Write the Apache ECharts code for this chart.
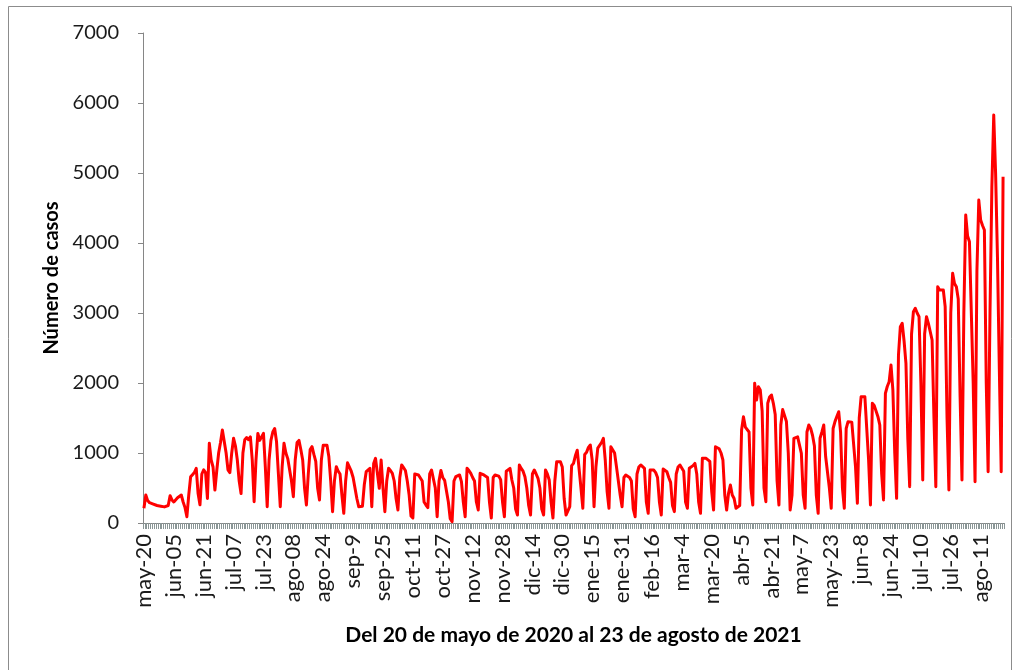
<!DOCTYPE html>
<html>
<head>
<meta charset="utf-8">
<script src="https://cdn.jsdelivr.net/npm/echarts@6/dist/echarts.min.js"></script>
<style>
  html, body { margin: 0; padding: 0; background: #ffffff; }
  #chart { width: 1019px; height: 670px; }
</style>
</head>
<body>
<div id="chart"></div>
<script>
// Daily cases, 20 May 2020 - 23 Aug 2021
const casosMayJul2020 = [
  210, 400, 320, 290, 280, 270, 265, 250, 270, 240, 255, 230, 210, 250, 390,
  330, 300, 320, 360, 380, 400, 300, 220, 90, 400, 660, 690, 720, 780, 420,
  260, 700, 760, 720, 350, 1140, 900, 800, 470, 750, 1000, 1150, 1330, 1320, 1000,
  760, 720, 1000, 1210, 1100, 900, 600, 420, 1000, 1190,
  1220, 1190, 1230, 900, 305, 900, 1280, 1180, 1200, 1280,
  800, 233, 900, 1180, 1300, 1350, 1160, 700, 233, 800
];
const casosAgoOct2020 = [
  1140, 1000, 920, 900, 600, 376, 900, 1150, 1180, 1050,
  900, 500, 257, 700, 1050, 1090, 980, 880, 500, 330,
  900, 1110, 1110, 1110, 950, 600, 162, 600, 805, 740,
  700, 400, 138, 600, 860, 880, 740, 650, 638, 350,
  233, 233, 240, 550, 733, 760, 781, 233, 850, 924,
  910, 495, 900, 500, 162, 600, 781, 750, 710, 600,
  350, 186, 650, 829, 790, 750, 600, 400, 100, 71,
  700, 700, 686, 660, 600, 300, 257, 220, 700, 757,
  733, 500, 90, 600, 750, 650, 610, 590, 300, 60
];
const casosNovEne = [
  19, 600, 662, 680, 686, 590, 300, 90, 781, 750,
  710, 650, 600, 300, 186, 710, 700, 686, 670, 650,
  300, 71, 650, 686, 686, 670, 620, 300, 90, 740,
  760, 781, 614, 500, 200, 114, 829, 780, 740, 662,
  500, 250, 114, 700, 757, 700, 638, 500, 200, 114,
  757, 700, 614, 300, 71, 600, 876, 876, 876, 800,
  350, 114, 140, 233, 820, 852, 960, 1040, 1067, 500,
  210, 980, 1010, 1080, 1114, 900, 233, 800, 1070, 1090,
  1150, 1210, 900, 450, 210, 1090, 1100, 1000, 805, 780
];
const casosFebAbr2021 = [
  400, 233, 650, 686, 686, 650, 600, 200, 90, 700,
  800, 829, 810, 780, 300, 138, 757, 757, 757, 720,
  650, 300, 114, 770, 781, 733, 650, 580, 250, 162,
  700, 800, 829, 829, 740, 300, 210, 781, 800, 820,
  852, 700, 300, 138, 924, 924, 924, 900, 880, 450,
  186, 1090, 1070, 1060, 1000, 900, 400, 186, 424, 543,
  400, 350, 210, 200, 250, 1329, 1519, 1370, 1352, 1300,
  500, 257, 1995, 1757, 1948, 1900, 1600, 500, 305, 1710,
  1800, 1829, 1710, 1550, 600, 257, 1400, 1620, 1638, 1450
];
const casosMayAgo2021 = [
  1000, 186, 400, 1210, 1210, 1230, 1257, 995, 400, 210,
  1300, 1400, 1352, 1250, 1100, 400, 138, 1210, 1300, 1400,
  950, 940, 500, 210, 1350, 1448, 1520, 1590, 1300, 500,
  210, 1350, 1448, 1448, 1440, 1424, 800, 281, 1500, 1805,
  1810, 1805, 1790, 900, 257, 1710, 1680, 1662, 1519, 1400,
  700, 329, 1852, 1950, 2019, 2257, 1900, 1000, 352, 2400,
  2805, 2852, 2600, 2281, 1200, 519, 2700, 3019, 3067, 3000,
  2948, 2000, 614, 2700, 2948, 2852, 2876, 2614, 1500, 519,
  3376, 3330, 3305, 3329, 3090, 1500, 471, 3000, 3567, 3420,
  3376, 3200, 1800, 614, 3000, 4400, 4100, 4019, 4000, 2000,
  590, 3600, 4614, 4329, 4250, 4186, 2000, 733, 3000, 4800,
  5829, 5000, 3800, 2200, 733, 4948
];

const tickLabels = [
  'may-20', 'jun-05', 'jun-21', 'jul-07', 'jul-23', 'ago-08', 'ago-24', 'sep-9',
  'sep-25', 'oct-11', 'oct-27', 'nov-12', 'nov-28', 'dic-14', 'dic-30', 'ene-15',
  'ene-31', 'feb-16', 'mar-4', 'mar-20', 'abr-5', 'abr-21', 'may-7', 'may-23',
  'jun-8', 'jun-24', 'jul-10', 'jul-26', 'ago-11'
];
const labelStep = 16;
const yAxisTitle = 'Número de casos';
const xAxisTitle = 'Del 20 de mayo de 2020 al 23 de agosto de 2021';

const casos = [].concat(casosMayJul2020, casosAgoOct2020, casosNovEne, casosFebAbr2021, casosMayAgo2021);
const categories = [];
const start = new Date(Date.UTC(2020, 4, 20));
for (let i = 0; i < casos.length; i++) {
  const d = new Date(start.getTime() + i * 86400000);
  categories.push(d.toISOString().slice(0, 10));
}

const FONT = 'Lato, "Open Sans", sans-serif';
const chart = echarts.init(document.getElementById('chart'), null, { renderer: 'canvas' });
chart.setOption({
  animation: false,
  backgroundColor: '#ffffff',
  grid: { left: 143, right: 15, top: 33, bottom: 147, containLabel: false },
  graphic: [{
    type: 'rect',
    shape: { x: 8.5, y: 6.5, width: 1003, height: 680 },
    style: { fill: 'none', stroke: '#8c8c8c', lineWidth: 1 },
    silent: true
  }],
  xAxis: {
    type: 'category',
    data: categories,
    boundaryGap: true,
    name: xAxisTitle,
    nameLocation: 'middle',
    nameGap: 102,
    nameTextStyle: { fontFamily: FONT, fontSize: 21, fontWeight: 'bold', color: '#000' },
    axisLine: { show: true, lineStyle: { color: '#868686', width: 1 } },
    axisTick: { show: true, interval: 0, length: 6, lineStyle: { color: '#8a9696', width: 1 } },
    axisLabel: {
      interval: labelStep - 1,
      rotate: 90,
      margin: 11,
      fontFamily: FONT,
      fontSize: 22,
      color: '#1a1a1a',
      formatter: function (val, idx) { return tickLabels[idx / labelStep] || ''; }
    },
    splitLine: { show: false }
  },
  yAxis: {
    type: 'value',
    min: 0,
    max: 7000,
    interval: 1000,
    name: yAxisTitle,
    nameLocation: 'middle',
    nameGap: 72,
    nameRotate: 90,
    nameTextStyle: { fontFamily: FONT, fontSize: 20, fontWeight: 'bold', color: '#000' },
    axisLine: { show: true, lineStyle: { color: '#868686', width: 1 } },
    axisTick: { show: true, inside: false, length: 5, lineStyle: { color: '#868686' } },
    axisLabel: {
      margin: 24, fontFamily: FONT, fontSize: 20, color: '#1a1a1a',
      formatter: function (v) { return String(v); }
    },
    splitLine: { show: false }
  },
  series: [{
    type: 'line',
    data: casos,
    showSymbol: false,
    symbol: 'none',
    sampling: null,
    lineStyle: { color: '#ff0000', width: 3, join: 'round' },
    itemStyle: { color: '#ff0000' },
    z: 3
  }]
});
</script>
</body>
</html>
